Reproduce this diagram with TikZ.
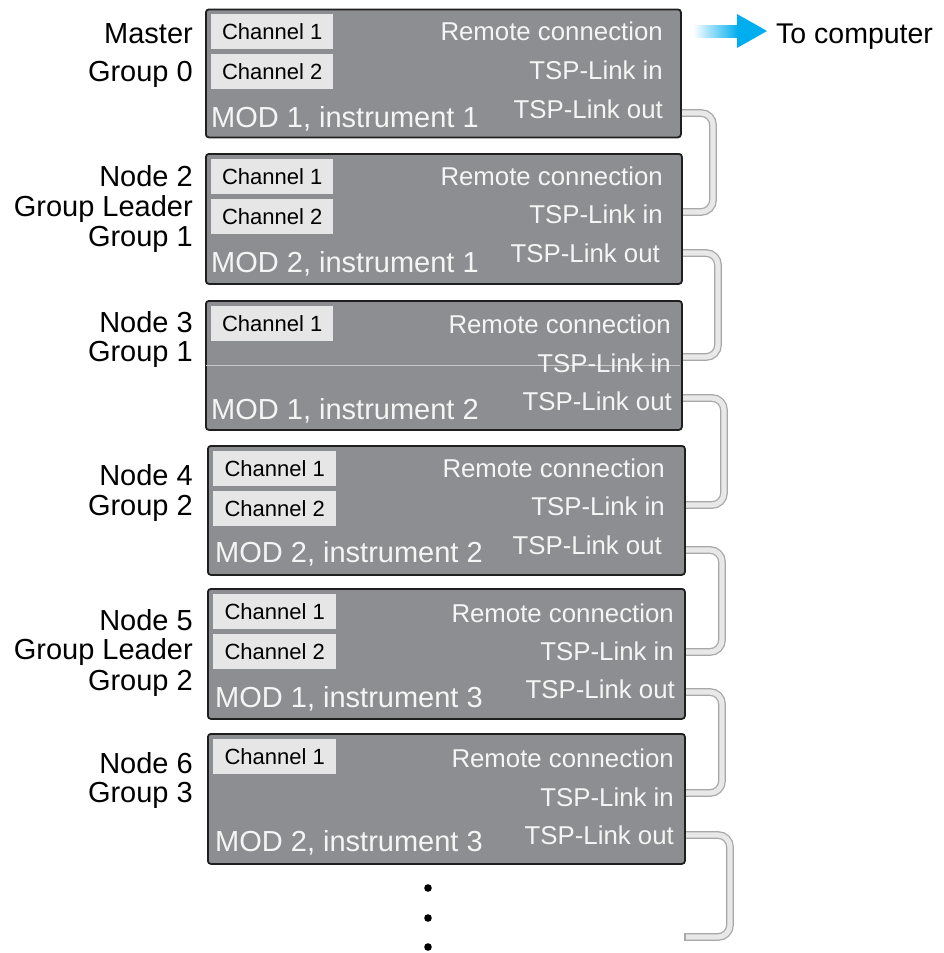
\documentclass[tikz,border=0pt]{standalone}
\usepackage{fontspec}
\setmainfont{Liberation Sans}
\usetikzlibrary{backgrounds}
\definecolor{boxfill}{RGB}{141,142,146}
\definecolor{chfill}{RGB}{230,230,230}
\definecolor{cableedge}{RGB}{168,168,168}
\definecolor{cablefill}{RGB}{232,232,232}
\definecolor{arrowblue}{RGB}{0,174,239}
\definecolor{porttext}{RGB}{245,245,245}
\begin{document}
\begin{tikzpicture}[x=1pt,y=-1pt,
 unitbox/.style={draw=black!88, line width=1.8pt, fill=boxfill, rounded corners=3pt, inner sep=0pt, anchor=north west},
 chbox/.style={fill=chfill, inner sep=0pt, minimum width=122pt, minimum height=35pt, anchor=north west, font=\fontsize{22}{24}\selectfont},
 lbl/.style={anchor=base east, inner sep=0pt, font=\fontsize{29}{30}\selectfont},
 port/.style={anchor=base east, inner sep=0pt, text=porttext, font=\fontsize{25.8}{27}\selectfont},
 modlbl/.style={anchor=base west, inner sep=0pt, text=porttext, font=\fontsize{29}{30}\selectfont},
 cable/.style={draw=cableedge, line width=1.3pt, double=cablefill, double distance=5.2pt, rounded corners=12pt},
 split/.style={draw=white!78!black, line width=0.8pt},
]
\useasboundingbox (0,0) rectangle (944,953);

% ---------- left labels ----------
\node[lbl] (l1a) at (193,43) {Master};
\node[lbl] (l1b) at (193,81) {Group 0};
\node[lbl] (l2a) at (193,186) {Node 2};
\node[lbl] (l2b) at (193,216) {Group Leader};
\node[lbl] (l2c) at (193,246) {Group 1};
\node[lbl] (l3a) at (193,332) {Node 3};
\node[lbl] (l3b) at (193,361) {Group 1};
\node[lbl] (l4a) at (193,485) {Node 4};
\node[lbl] (l4b) at (193,515) {Group 2};
\node[lbl] (l5a) at (193,630) {Node 5};
\node[lbl] (l5b) at (193,659) {Group Leader};
\node[lbl] (l5c) at (193,690) {Group 2};
\node[lbl] (l6a) at (193,773) {Node 6};
\node[lbl] (l6b) at (193,802) {Group 3};

% ---------- box 1 ----------
\node[unitbox, minimum width=475pt, minimum height=128pt] (b1) at (205,8.5) {};
\node[chbox] (b1c1) at (211,14) {Channel 1};
\node[chbox] (b1c2) at (211,54) {Channel 2};
\node[port] (b1r) at (663,40.5) {Remote connection};
\node[port] (b1i) at (663,79.5) {TSP-Link in};
\node[port] (b1o) at (663,118) {TSP-Link out};
\node[modlbl] (b1m) at (211,127) {MOD 1, instrument 1};

% ---------- box 2 ----------
\node[unitbox, minimum width=476pt, minimum height=130pt] (b2) at (205,153) {};
\node[chbox] (b2c1) at (211,159) {Channel 1};
\node[chbox] (b2c2) at (211,199) {Channel 2};
\node[port] (b2r) at (663,185) {Remote connection};
\node[port] (b2i) at (663,223) {TSP-Link in};
\node[port] (b2o) at (660,262) {TSP-Link out};
\node[modlbl] (b2m) at (211,272.5) {MOD 2, instrument 1};

% ---------- box 3 ----------
\node[unitbox, minimum width=476pt, minimum height=129pt] (b3) at (205,300) {};
\draw[split] (206,365) -- (680,365);
\node[chbox] (b3c1) at (211,306) {Channel 1};
\node[port] (b3r) at (671,333) {Remote connection};
\node[port] (b3i) at (671,372) {TSP-Link in};
\node[port] (b3o) at (672,410) {TSP-Link out};
\node[modlbl] (b3m) at (211,419) {MOD 1, instrument 2};

% ---------- box 4 ----------
\node[unitbox, minimum width=477pt, minimum height=129pt] (b4) at (207,445) {};
\node[chbox, minimum width=123pt] (b4c1) at (213,451) {Channel 1};
\node[chbox, minimum width=123pt] (b4c2) at (213,491) {Channel 2};
\node[port] (b4r) at (665,477) {Remote connection};
\node[port] (b4i) at (665,515) {TSP-Link in};
\node[port] (b4o) at (662,554) {TSP-Link out};
\node[modlbl] (b4m) at (215,562) {MOD 2, instrument 2};

% ---------- box 5 ----------
\node[unitbox, minimum width=477pt, minimum height=130pt] (b5) at (207,588) {};
\node[chbox, minimum width=123pt] (b5c1) at (213,594) {Channel 1};
\node[chbox, minimum width=123pt] (b5c2) at (213,634) {Channel 2};
\node[port] (b5r) at (674,622) {Remote connection};
\node[port] (b5i) at (674,660) {TSP-Link in};
\node[port] (b5o) at (675,698) {TSP-Link out};
\node[modlbl] (b5m) at (215,707) {MOD 1, instrument 3};

% ---------- box 6 ----------
\node[unitbox, minimum width=477pt, minimum height=130pt] (b6) at (207,733) {};
\node[chbox, minimum width=123pt] (b6c1) at (213,739) {Channel 1};
\node[port] (b6r) at (674,767) {Remote connection};
\node[port] (b6i) at (674,806) {TSP-Link in};
\node[port] (b6o) at (674,844) {TSP-Link out};
\node[modlbl] (b6m) at (215,851) {MOD 2, instrument 3};

% ---------- cables ----------
\coordinate (cend) at (685,937);
\begin{scope}[on background layer]
\draw[cable] (b1.east |- 0,113) -| (713,212) -- (b2.east |- 0,212);
\draw[cable] (b2.east |- 0,253) -| (718,357) -- (b3.east |- 0,357);
\draw[cable] (b3.east |- 0,398) -| (724,505) -- (b4.east |- 0,505);
\draw[cable] (b4.east |- 0,550) -| (722,652) -- (b5.east |- 0,652);
\draw[cable] (b5.east |- 0,692) -| (722,793) -- (b6.east |- 0,793);
\draw[cable] (b6.east |- 0,835) -| (730,937) -- (cend);
\end{scope}
\draw[cableedge, line width=1.3pt] ([yshift=3.9pt]cend) -- ([yshift=-3.9pt]cend);

% ---------- to computer ----------
\node[anchor=base west, inner sep=0pt, font=\fontsize{28.5}{30}\selectfont] (comp) at (776,43) {To computer};
\shade[left color=white, right color=arrowblue] (693,25) rectangle (738,37);
\fill[arrowblue] (737,14) -- (767,31) -- (737,48) -- cycle;

% ---------- continuation dots ----------
\fill (428,888) circle (3.8pt);
\fill (428,918) circle (3.8pt);
\fill (428,947) circle (3.8pt);
\end{tikzpicture}
\end{document}
